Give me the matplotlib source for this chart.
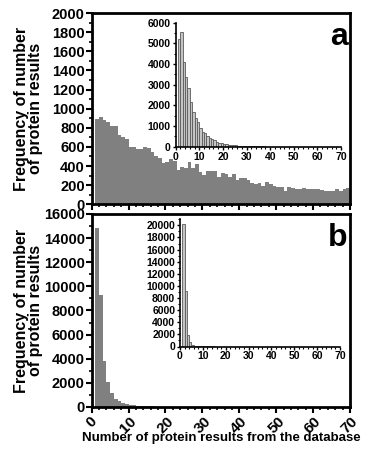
import matplotlib
matplotlib.use("Agg")
import matplotlib.pyplot as plt
from matplotlib.ticker import MultipleLocator

plt.rcParams['font.family'] = ['Liberation Sans', 'DejaVu Sans']
plt.rcParams['font.weight'] = 'bold'

# Panel a main histogram (bins starting at 1, width 1)
a_main = [891, 908, 884, 863, 821, 814, 723, 709, 681, 604, 597, 583, 577, 604, 587,
          542, 503, 482, 430, 447, 475, 458, 360, 395, 384, 447, 377, 423, 339, 311,
          346, 346, 346, 290, 332, 318, 290, 318, 255, 276, 276, 255, 227, 213, 227,
          192, 238, 213, 192, 185, 178, 143, 185, 168, 157, 164, 171, 164, 157, 164,
          157, 150, 143, 136, 140, 157, 136, 157, 168]
# Panel a inset
a_inset = [5210, 5532, 4113, 3387, 2855, 2145, 1694, 1403, 1177, 887, 726, 645, 532,
           435, 371, 306, 242, 194, 161, 129, 113, 97, 82, 72, 66, 56, 46, 40, 35, 30,
           26, 22, 19, 16, 14, 12, 10, 9, 8, 7, 6, 5, 5, 4, 4, 3, 3, 3, 2, 2]
# Panel b main histogram
b_main = [14810, 9273, 3792, 2076, 1190, 637, 470, 360, 280, 190, 140, 110, 80, 60,
          50, 40, 30, 25, 20, 15, 12, 10, 8, 6, 5]
# Panel b inset
b_inset = [20150, 9090, 1980, 770, 330, 165, 80, 40, 25, 15, 10, 8, 6, 4]

main_color = '#808080'
inset_face = '#c4c4c4'
inset_edge = '#5a5a5a'

fig = plt.figure(figsize=(3.66, 4.5), dpi=100)

def style_main(ax, ymax, ymajor, yminor, show_xlabels):
    ax.set_xlim(0, 70)
    ax.set_ylim(0, ymax)
    ax.xaxis.set_major_locator(MultipleLocator(10))
    ax.xaxis.set_minor_locator(MultipleLocator(2))
    ax.yaxis.set_major_locator(MultipleLocator(ymajor))
    ax.yaxis.set_minor_locator(MultipleLocator(yminor))
    for s in ax.spines.values():
        s.set_linewidth(2.0)
    ax.tick_params(which='major', direction='out', length=4, width=1.5,
                   labelsize=10.5, pad=1)
    ax.tick_params(which='minor', direction='out', length=2.5, width=1.2)
    for lab in ax.get_yticklabels():
        lab.set_fontweight('bold')
    if show_xlabels:
        ax.set_xticks(range(0, 71, 10))
        ax.set_xticklabels([str(v) for v in range(0, 71, 10)], rotation=45,
                           fontweight='bold', fontsize=11, ha='center', va='top')
    else:
        ax.tick_params(axis='x', labelbottom=False)

def style_inset(ax, ymax, ymajor, yminor):
    ax.set_xlim(0, 70)
    ax.set_ylim(0, ymax)
    ax.xaxis.set_major_locator(MultipleLocator(10))
    ax.xaxis.set_minor_locator(MultipleLocator(2))
    ax.yaxis.set_major_locator(MultipleLocator(ymajor))
    ax.yaxis.set_minor_locator(MultipleLocator(yminor))
    ax.spines['top'].set_visible(False)
    ax.spines['right'].set_visible(False)
    for s in ('left', 'bottom'):
        ax.spines[s].set_linewidth(1.2)
    ax.patch.set_alpha(0)
    ax.tick_params(which='major', direction='out', length=2.5, width=1.0,
                   labelsize=7.5, pad=1)
    ax.tick_params(which='minor', direction='out', length=1.5, width=0.8)
    for lab in ax.get_xticklabels() + ax.get_yticklabels():
        lab.set_fontweight('bold')

ylabel = 'Frequency of number\nof protein results'
ylab_x = -0.19

# Panel a
axa = fig.add_axes([0.2505, 0.546, 0.7058, 0.425])
xa = [1 + i for i in range(len(a_main))]
axa.bar(xa, a_main, width=1.0, align='edge', color=main_color, linewidth=0)
style_main(axa, 2000, 200, 100, False)
axa.set_ylabel(ylabel, fontsize=11.5, fontweight='bold', linespacing=0.85)
axa.yaxis.set_label_coords(ylab_x, 0.5)
axa.text(0.99, 0.955, 'a', transform=axa.transAxes, ha='right', va='top',
         fontsize=23, fontweight='bold')

axai = fig.add_axes([0.480, 0.674, 0.4517, 0.2756])
xai = [1 + i for i in range(len(a_inset))]
axai.bar(xai, a_inset, width=1.0, align='edge', color=inset_face,
         edgecolor=inset_edge, linewidth=0.6)
style_inset(axai, 6000, 1000, 500)

# Panel b
axb = fig.add_axes([0.2505, 0.0956, 0.7058, 0.4289])
xb = [1 + i for i in range(len(b_main))]
axb.bar(xb, b_main, width=1.0, align='edge', color=main_color, linewidth=0)
style_main(axb, 16000, 2000, 1000, True)
axb.set_ylabel(ylabel, fontsize=11.5, fontweight='bold', linespacing=0.85)
axb.yaxis.set_label_coords(ylab_x, 0.5)
axb.set_xlabel('Number of protein results from the database', fontsize=9.5,
               fontweight='bold', labelpad=-3)
axb.text(0.99, 0.955, 'b', transform=axb.transAxes, ha='right', va='top',
         fontsize=23, fontweight='bold')

axbi = fig.add_axes([0.4918, 0.23, 0.4372, 0.2827])
xbi = [1 + i for i in range(len(b_inset))]
axbi.bar(xbi, b_inset, width=1.0, align='edge', color=inset_face,
         edgecolor=inset_edge, linewidth=0.6)
style_inset(axbi, 21000, 2000, 1000)

fig.savefig('out.png', dpi=100)
